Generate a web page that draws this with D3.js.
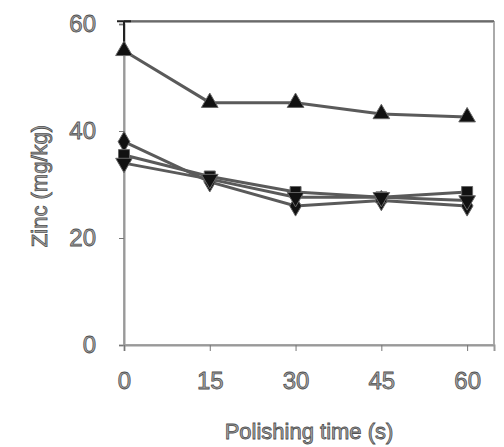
<!DOCTYPE html>
<html>
<head>
<script src="https://d3js.org/d3.v7.min.js"></script>
<style>
  body { margin: 0; background: #fff; }
  text { font-family: "Liberation Sans", Arial, sans-serif; }
</style>
</head>
<body>
<div id="vis"></div>
<script>
// polishing time (s)
var times = [0, 15, 30, 45, 60]
var xTicks = [0, 15, 30, 45, 60]
var yTicks = [0, 20, 40, 60]

// zinc (mg/kg) per series
var triangleVals = [55, 45.3, 45.3, 43.2, 42.6]
var diamondVals = [38, 30.5, 26, 27, 26]
var squareVals = [35.5, 31.5, 28.6, 27.6, 28.6]
var invTriVals = [34, 31, 27.6, 27.6, 27]
var triangleErr = [5.5, 0, 0, 0, 0]

var series = [
  {name: "triangle", vals: triangleVals, symbol: d3.symbolTriangle, rot: 0},
  {name: "diamond", vals: diamondVals, symbol: d3.symbolDiamond, rot: 0},
  {name: "square", vals: squareVals, symbol: d3.symbolSquare, rot: 0},
  {name: "invtri", vals: invTriVals, symbol: d3.symbolTriangle, rot: 180}
]

var width = 504, height = 447
var svg = d3.select("#vis").append("svg")
  .attr("width", width).attr("height", height)

var x = d3.scaleLinear().domain([0, 64.7]).range([124, 494])
var y = d3.scaleLinear().domain([0, 60]).range([345, 24])

var txtFill = "#a8a8a8", txtStroke = "#505050"

// frame
svg.append("rect")
  .attr("x", x(0)).attr("y", y(60) - 2)
  .attr("width", x(64.7) - x(0)).attr("height", y(0) - y(60) + 2)
  .attr("fill", "none").attr("stroke", "#aaa").attr("stroke-width", 2)
svg.append("line")
  .attr("x1", x(0)).attr("x2", x(64.7)).attr("y1", y(60) - 3).attr("y2", y(60) - 3)
  .attr("stroke", "#555").attr("stroke-width", 1.5)

// axes
var yAxis = svg.append("g")
  .attr("transform", "translate(" + x(0) + ",0)")
  .call(d3.axisLeft(y).tickValues(yTicks).tickSize(5).tickPadding(23).tickFormat(d3.format("d")))
yAxis.select(".domain").attr("stroke", "#999").attr("stroke-width", 2)
yAxis.selectAll(".tick line").attr("stroke", "#777")

var xAxis = svg.append("g")
  .attr("transform", "translate(0," + y(0) + ")")
  .call(d3.axisBottom(x).tickValues(xTicks).tickSize(6).tickPadding(21).tickFormat(d3.format("d")))
xAxis.select(".domain").attr("stroke", "#999").attr("stroke-width", 2)
xAxis.selectAll(".tick line").attr("stroke", "#777")

svg.selectAll(".tick text")
  .attr("font-size", 24)
  .attr("fill", txtFill).attr("stroke", txtStroke).attr("stroke-width", 0.8)
  .attr("font-family", '"Liberation Sans", Arial, sans-serif')

// axis titles
svg.append("text")
  .attr("transform", "translate(47,186) rotate(-90)")
  .attr("text-anchor", "middle")
  .attr("font-size", 22)
  .attr("fill", txtFill).attr("stroke", txtStroke).attr("stroke-width", 0.8)
  .text("Zinc (mg/kg)")

svg.append("text")
  .attr("x", 309).attr("y", 439)
  .attr("text-anchor", "middle")
  .attr("font-size", 22)
  .attr("fill", txtFill).attr("stroke", txtStroke).attr("stroke-width", 0.8)
  .text("Polishing time (s)")

// error bars
svg.append("g").selectAll("path")
  .data(times.map(function(t, i) { return {t: t, v: triangleVals[i], e: triangleErr[i]} }).filter(function(d) { return d.e > 0 }))
  .join("path")
  .attr("d", function(d) {
    var cx = x(d.t), top = y(d.v + d.e)
    return "M" + cx + "," + y(d.v) + "V" + top + "M" + (cx - 7) + "," + top + "H" + (cx + 7)
  })
  .attr("stroke", "#222").attr("stroke-width", 2).attr("fill", "none")

var line = d3.line()
  .x(function(d, i) { return x(times[i]) })
  .y(function(d) { return y(d) })

series.forEach(function(s) {
  svg.append("path")
    .datum(s.vals)
    .attr("d", line)
    .attr("fill", "none")
    .attr("stroke", "#5a5a5a")
    .attr("stroke-width", 3)
})

series.forEach(function(s) {
  svg.append("g").selectAll("path")
    .data(s.vals)
    .join("path")
    .attr("d", d3.symbol().type(s.symbol).size(120))
    .attr("transform", function(d, i) {
      return "translate(" + x(times[i]) + "," + y(d) + ") rotate(" + s.rot + ")"
    })
    .attr("fill", "#111")
    .attr("stroke", "#666").attr("stroke-width", 1)
})
</script>
</body>
</html>
